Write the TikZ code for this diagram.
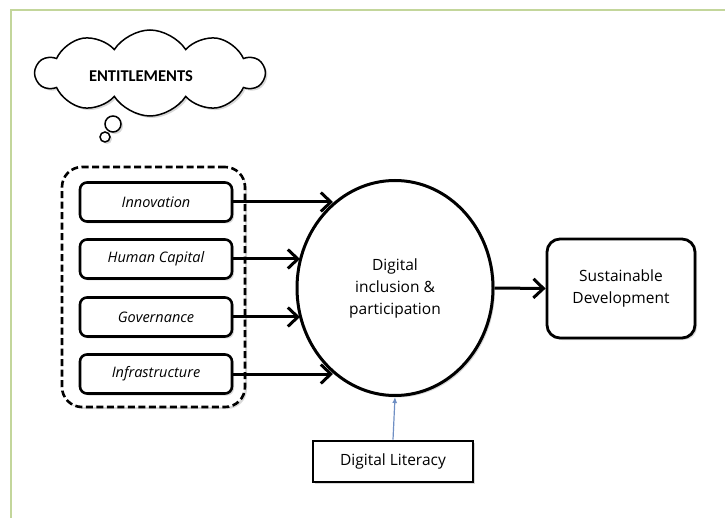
\documentclass[tikz,border=0pt]{standalone}
\usepackage{fontspec}
\setmainfont{Open Sans}
\newfontfamily\cloudfont{Carlito}
\usetikzlibrary{shapes.symbols,shapes.geometric,shadows,arrows.meta}
\definecolor{framegreen}{HTML}{C3D69B}
\definecolor{litblue}{HTML}{6F8FC4}
\begin{document}
\begin{tikzpicture}[x=1pt,y=-1pt,
  shadowed/.style={drop shadow={opacity=0.3,shadow xshift=2pt,shadow yshift=-2pt}},
  factor/.style={draw,line width=2.6pt,rounded corners=7pt,fill=white,shadowed,
    minimum width=152pt,minimum height=39pt,font=\itshape\fontsize{14.5}{16}\selectfont},
  flow/.style={line width=3pt,-{Straight Barb[length=10pt,width=19pt,line width=3pt]}},
  bubble/.style={draw,line width=1.5pt,fill=white}]
\useasboundingbox (0,0) rectangle (725,518);
\fill[white] (0,0) rectangle (725,518);
% page frame
\draw[framegreen,line width=2.2pt] (11,518) -- (11,10) -- (725,10);

% thought cloud
\node[bubble,circle,minimum size=16pt,inner sep=0pt,shadowed] (tailA) at (113,124) {};
\node[draw,line width=1.5pt,fill=white,cloud,cloud puffs=10,cloud puff arc=115,aspect=2.6,
  minimum width=228pt,minimum height=86pt,inner sep=0pt,shadowed] (cloud) at (150,73) {};
\node[font=\cloudfont\bfseries\fontsize{16.5}{18}\selectfont,inner sep=0pt] (ent) at (141,76) {ENTITLEMENTS};
\node[bubble,circle,minimum size=10pt,inner sep=0pt,shadowed] (tailB) at (105,137) {};

% grouping frame
\node[draw,dash pattern=on 7pt off 3.5pt,line width=2.6pt,rounded corners=20pt,fill=white,shadowed,
  minimum width=183pt,minimum height=240pt] (group) at (153.5,287) {};

\node[factor] (inno) at (156,202) {Innovation};
\node[factor] (human) at (156,259) {Human Capital};
\node[factor] (gov) at (156,317) {Governance};
\node[factor] (infra) at (156,374) {Infrastructure};

% central ellipse
\node[draw,ellipse,line width=3pt,fill=white,shadowed,minimum width=196pt,minimum height=215pt,
  align=center,font=\fontsize{15.5}{22}\selectfont] (incl) at (395,288)
  {Digital\\inclusion \&\\participation};

\node[draw,line width=2.8pt,rounded corners=13pt,fill=white,shadowed,minimum width=148pt,
  minimum height=99pt,align=center,font=\fontsize{15.5}{22}\selectfont] (sust) at (621,288.5)
  {Sustainable\\Development};

\node[draw,line width=2.8pt,fill=white,shadowed,minimum width=160pt,minimum height=41pt,
  font=\fontsize{15.5}{18}\selectfont] (lit) at (393,461.5) {Digital Literacy};

% connectors
\draw[flow] (inno.east) -- (333,202);
\draw[flow] (human.east) -- (300,259);
\draw[flow] (gov.east) -- (300,317);
\draw[flow] (infra.east) -- (333,374);
\draw[flow] (incl.east) -- (sust.west);
\draw[litblue,line width=1.2pt,-{Latex[length=6pt,width=5pt]}] (lit.north) -- (incl.south);
\end{tikzpicture}
\end{document}
